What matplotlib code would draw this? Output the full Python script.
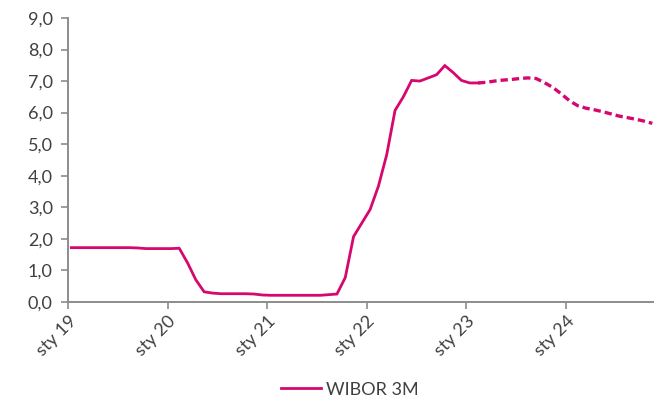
"""
WIBOR 3M: actual values and forecast (dashed).
"""
import matplotlib.pyplot as plt
from matplotlib.lines import Line2D
from matplotlib.ticker import FuncFormatter

# Months since Jan 2019, data point sits a bit after the month start.
months_actual = list(range(0, 50))
wibor_actual = [
    1.72, 1.72, 1.72, 1.72, 1.72, 1.72, 1.72, 1.72, 1.71, 1.69,
    1.69, 1.69, 1.69, 1.70, 1.24, 0.70, 0.32, 0.28, 0.26, 0.26,
    0.26, 0.26, 0.25, 0.22, 0.21, 0.21, 0.21, 0.21, 0.21, 0.21,
    0.21, 0.23, 0.25, 0.77, 2.07, 2.50, 2.93, 3.67, 4.67, 6.07,
    6.50, 7.02, 7.00, 7.10, 7.20, 7.49, 7.27, 7.02, 6.94, 6.94,
]
months_forecast = list(range(49, 71))
wibor_forecast = [
    6.94, 6.96, 7.00, 7.03, 7.05, 7.08, 7.10, 7.08, 6.95, 6.80,
    6.60, 6.38, 6.22, 6.14, 6.09, 6.03, 5.96, 5.89, 5.84, 5.79,
    5.73, 5.66,
]
tick_months = [0, 12, 24, 36, 48, 60]
tick_labels = ["sty 19", "sty 20", "sty 21", "sty 22", "sty 23", "sty 24"]

color = "#D6086F"
gray = "#8C8C8C"
textc = "#404040"
offset = 0.4

plt.rcParams["font.family"] = ["Lato", "DejaVu Sans"]

fig = plt.figure(figsize=(6.54, 4.08), dpi=100)
ax = fig.add_axes([0.104, 0.26, 0.896, 0.696])

ax.plot([m + offset for m in months_actual], wibor_actual, color=color, lw=2.0,
        solid_joinstyle="miter")
ax.plot([m + offset for m in months_forecast], wibor_forecast, color=color, lw=2.4,
        dashes=(2.2, 1.2))

ax.set_xlim(0, 70.6)
ax.set_ylim(0, 9)
ax.set_yticks(range(0, 10))
ax.yaxis.set_major_formatter(FuncFormatter(lambda v, p: "{:.1f}".format(v).replace(".", ",")))
ax.set_xticks(tick_months)
ax.set_xticklabels(tick_labels, rotation=45, ha="right", rotation_mode="anchor")

for side in ["top", "right"]:
    ax.spines[side].set_visible(False)
for side in ["left", "bottom"]:
    ax.spines[side].set_color(gray)
    ax.spines[side].set_linewidth(1.4)
ax.tick_params(axis="both", colors=gray, width=1.2, length=5, labelcolor=textc, labelsize=13)
ax.tick_params(axis="x", pad=3)
ax.tick_params(axis="y", pad=6)

handle = Line2D([], [], color=color, lw=2.0)
fig.legend([handle], ["WIBOR 3M"], loc="center", bbox_to_anchor=(0.535, 0.045),
           frameon=False, fontsize=13, handlelength=2.2, handletextpad=0.3,
           labelcolor=textc)

fig.savefig("out.png", dpi=100)
